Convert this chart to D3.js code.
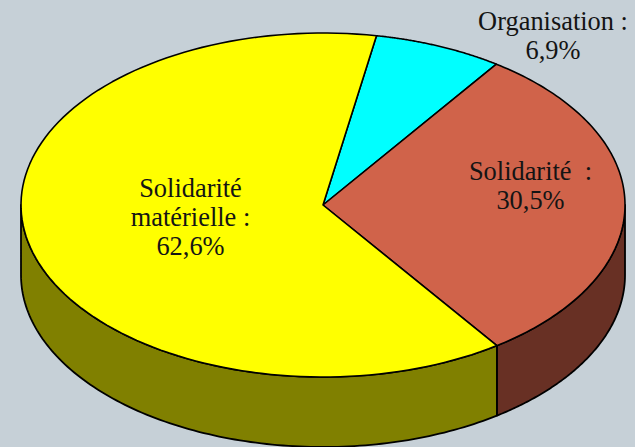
<!DOCTYPE html>
<html><head><meta charset="utf-8">
<script src="https://cdn.jsdelivr.net/npm/d3@7/dist/d3.min.js"></script>
<style>html,body{margin:0;padding:0;background:#c6d0d7;overflow:hidden}svg{display:block}</style>
</head><body><svg id="c" width="635" height="447"></svg>
<script>
const categories = ["Organisation", "Solidarité", "Solidarité matérielle"];
const values = [6.9, 30.5, 62.6];
const topColors = ["#00ffff", "#d0634a", "#ffff00"];
const sideColors = ["#008080", "#683024", "#808000"];
const labelLines = [["Organisation :", "6,9%"], ["Solidarité  :", "30,5%"], ["Solidarité", "matérielle :", "62,6%"]];
const labelAnchors = [[553, 30], [530.5, 180], [190.5, 197]];

const svg = d3.select("#c");
const rotation = 10.2 * Math.PI / 180;
const cx = 323, cy = 205, rx = 302, ry = 172, depth = 70;
const sx = d3.scaleLinear().domain([-1, 1]).range([cx - rx, cx + rx]);
const sy = d3.scaleLinear().domain([-1, 1]).range([cy - ry, cy + ry]);
const pie = d3.pie().sort(null).value(d => d).startAngle(rotation).endAngle(rotation + 2 * Math.PI);
const arcs = pie(values);
const line = d3.line().x(d => d[0]).y(d => d[1]);
const pt = (a, dz = 0) => [sx(Math.sin(a)), sy(-Math.cos(a)) + dz];
const sample = (a0, a1, dz = 0) => d3.range(0, 121).map(i => pt(a0 + (a1 - a0) * i / 120, dz));

// Side walls: only the front half of the ellipse
const frontA = Math.PI / 2, frontB = 3 * Math.PI / 2;
arcs.forEach((d, i) => {
  const a0 = Math.max(d.startAngle, frontA), a1 = Math.min(d.endAngle, frontB);
  if (a1 <= a0) return;
  const pts = sample(a0, a1).concat(sample(a1, a0, depth));
  svg.append("path").attr("d", line(pts) + "Z")
    .attr("fill", sideColors[i]).attr("stroke", "#000").attr("stroke-width", 1.8).attr("stroke-linejoin", "round");
});

// Top faces
arcs.forEach((d, i) => {
  const pts = [[cx, cy]].concat(sample(d.startAngle, d.endAngle));
  svg.append("path").attr("d", line(pts) + "Z")
    .attr("fill", topColors[i]).attr("stroke", "#000").attr("stroke-width", 1.6).attr("stroke-linejoin", "round");
});

// Labels
labelLines.forEach((lines, i) => {
  const t = svg.append("text").attr("text-anchor", "middle")
    .attr("font-family", "'Liberation Serif', serif").attr("font-size", 26.4).attr("fill", "#141414")
    .style("white-space", "pre");
  lines.forEach((s, j) => t.append("tspan").attr("x", labelAnchors[i][0]).attr("y", labelAnchors[i][1] + j * 29).text(s));
});
</script></body></html>
